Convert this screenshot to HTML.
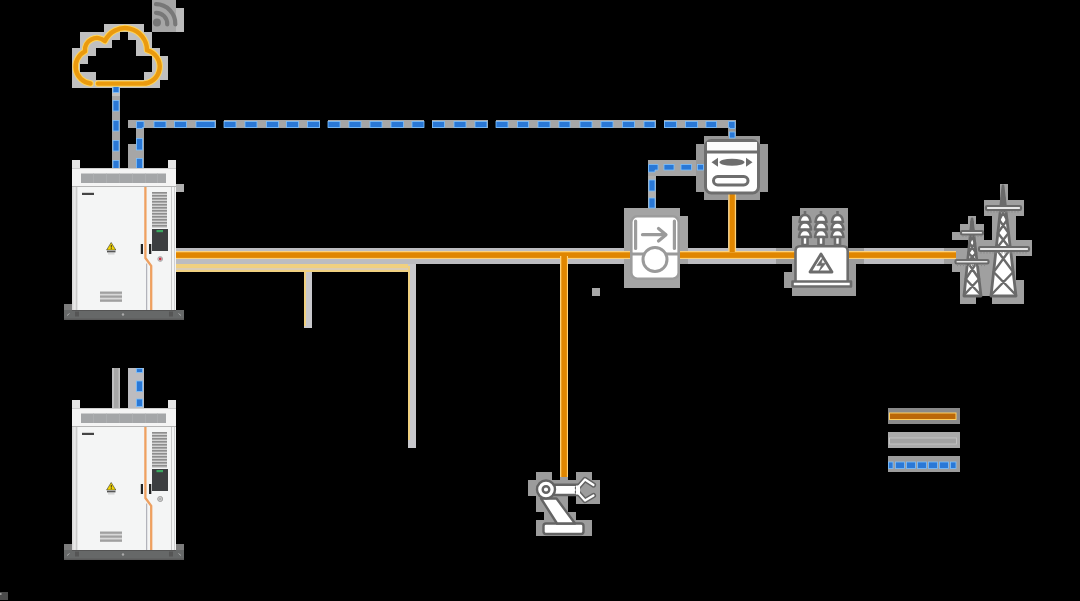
<!DOCTYPE html>
<html><head><meta charset="utf-8">
<style>
html,body{margin:0;padding:0;background:#000;width:1080px;height:601px;overflow:hidden;font-family:"Liberation Sans",sans-serif;}
svg{position:absolute;left:0;top:0;display:block}
</style></head><body>
<svg width="1080" height="601" viewBox="0 0 1080 601">
<g shape-rendering="crispEdges"><rect x="152" y="0" width="24" height="8" fill="#a8a8a8"/><rect x="152" y="8" width="32" height="8" fill="#a8a8a8"/><rect x="152" y="16" width="16" height="8" fill="#c0c0c0"/><rect x="168" y="16" width="16" height="8" fill="#a8a8a8"/><rect x="104" y="24" width="40" height="8" fill="#c0c0c0"/><rect x="152" y="24" width="16" height="8" fill="#c0c0c0"/><rect x="168" y="24" width="16" height="8" fill="#a8a8a8"/><rect x="80" y="32" width="40" height="8" fill="#c0c0c0"/><rect x="128" y="32" width="24" height="8" fill="#c0c0c0"/><rect x="80" y="40" width="32" height="8" fill="#c0c0c0"/><rect x="136" y="40" width="16" height="8" fill="#c0c0c0"/><rect x="72" y="48" width="24" height="8" fill="#c0c0c0"/><rect x="136" y="48" width="24" height="8" fill="#c0c0c0"/><rect x="72" y="56" width="16" height="8" fill="#c0c0c0"/><rect x="152" y="56" width="16" height="8" fill="#c0c0c0"/><rect x="72" y="64" width="8" height="8" fill="#c0c0c0"/><rect x="152" y="64" width="16" height="8" fill="#c0c0c0"/><rect x="72" y="72" width="24" height="8" fill="#c0c0c0"/><rect x="144" y="72" width="24" height="8" fill="#c0c0c0"/><rect x="72" y="80" width="88" height="8" fill="#c0c0c0"/><rect x="112" y="88" width="8" height="8" fill="#c0c0c0"/><rect x="112" y="96" width="8" height="8" fill="#a6a6a6"/><rect x="112" y="104" width="8" height="8" fill="#a6a6a6"/><rect x="112" y="112" width="8" height="8" fill="#a6a6a6"/><rect x="112" y="120" width="8" height="8" fill="#a6a6a6"/><rect x="128" y="120" width="88" height="8" fill="#a6a6a6"/><rect x="224" y="120" width="96" height="8" fill="#a6a6a6"/><rect x="328" y="120" width="96" height="8" fill="#a6a6a6"/><rect x="432" y="120" width="56" height="8" fill="#a6a6a6"/><rect x="496" y="120" width="160" height="8" fill="#a6a6a6"/><rect x="664" y="120" width="72" height="8" fill="#a6a6a6"/><rect x="112" y="128" width="8" height="8" fill="#a6a6a6"/><rect x="136" y="128" width="8" height="8" fill="#a6a6a6"/><rect x="728" y="128" width="8" height="8" fill="#989898"/><rect x="112" y="136" width="8" height="8" fill="#a6a6a6"/><rect x="136" y="136" width="8" height="8" fill="#a6a6a6"/><rect x="704" y="136" width="56" height="8" fill="#989898"/><rect x="112" y="144" width="8" height="8" fill="#a6a6a6"/><rect x="128" y="144" width="16" height="8" fill="#a6a6a6"/><rect x="696" y="144" width="72" height="8" fill="#989898"/><rect x="112" y="152" width="8" height="8" fill="#a6a6a6"/><rect x="128" y="152" width="16" height="8" fill="#a6a6a6"/><rect x="696" y="152" width="72" height="8" fill="#989898"/><rect x="72" y="160" width="8" height="8" fill="#a6a6a6"/><rect x="112" y="160" width="8" height="8" fill="#a6a6a6"/><rect x="128" y="160" width="16" height="8" fill="#a6a6a6"/><rect x="168" y="160" width="8" height="8" fill="#a6a6a6"/><rect x="648" y="160" width="48" height="8" fill="#a6a6a6"/><rect x="696" y="160" width="72" height="8" fill="#989898"/><rect x="72" y="168" width="104" height="8" fill="#a6a6a6"/><rect x="648" y="168" width="48" height="8" fill="#a6a6a6"/><rect x="696" y="168" width="72" height="8" fill="#989898"/><rect x="72" y="176" width="104" height="8" fill="#b0b0b0"/><rect x="648" y="176" width="8" height="8" fill="#b0b0b0"/><rect x="696" y="176" width="72" height="8" fill="#989898"/><rect x="72" y="184" width="112" height="8" fill="#b0b0b0"/><rect x="648" y="184" width="8" height="8" fill="#b0b0b0"/><rect x="696" y="184" width="72" height="8" fill="#989898"/><rect x="1000" y="184" width="8" height="8" fill="#a0a0a0"/><rect x="72" y="192" width="104" height="8" fill="#b0b0b0"/><rect x="648" y="192" width="8" height="8" fill="#b0b0b0"/><rect x="704" y="192" width="56" height="8" fill="#989898"/><rect x="1000" y="192" width="8" height="8" fill="#a0a0a0"/><rect x="72" y="200" width="104" height="8" fill="#b0b0b0"/><rect x="648" y="200" width="8" height="8" fill="#b0b0b0"/><rect x="728" y="200" width="8" height="8" fill="#b0b0b0"/><rect x="984" y="200" width="40" height="8" fill="#a0a0a0"/><rect x="72" y="208" width="104" height="8" fill="#b0b0b0"/><rect x="624" y="208" width="56" height="8" fill="#a4a4a4"/><rect x="728" y="208" width="8" height="8" fill="#b0b0b0"/><rect x="800" y="208" width="48" height="8" fill="#9c9c9c"/><rect x="984" y="208" width="40" height="8" fill="#a0a0a0"/><rect x="72" y="216" width="104" height="8" fill="#b0b0b0"/><rect x="624" y="216" width="64" height="8" fill="#a4a4a4"/><rect x="728" y="216" width="8" height="8" fill="#b0b0b0"/><rect x="792" y="216" width="56" height="8" fill="#9c9c9c"/><rect x="968" y="216" width="8" height="8" fill="#a0a0a0"/><rect x="992" y="216" width="24" height="8" fill="#a0a0a0"/><rect x="72" y="224" width="104" height="8" fill="#b0b0b0"/><rect x="624" y="224" width="64" height="8" fill="#a4a4a4"/><rect x="728" y="224" width="8" height="8" fill="#b0b0b0"/><rect x="792" y="224" width="56" height="8" fill="#9c9c9c"/><rect x="960" y="224" width="24" height="8" fill="#a0a0a0"/><rect x="992" y="224" width="24" height="8" fill="#a0a0a0"/><rect x="72" y="232" width="104" height="8" fill="#b0b0b0"/><rect x="624" y="232" width="64" height="8" fill="#a4a4a4"/><rect x="728" y="232" width="8" height="8" fill="#b0b0b0"/><rect x="792" y="232" width="56" height="8" fill="#9c9c9c"/><rect x="952" y="232" width="32" height="8" fill="#a0a0a0"/><rect x="992" y="232" width="24" height="8" fill="#a0a0a0"/><rect x="72" y="240" width="104" height="8" fill="#bcbcc0"/><rect x="624" y="240" width="64" height="8" fill="#a4a4a4"/><rect x="728" y="240" width="8" height="8" fill="#bcbcc0"/><rect x="792" y="240" width="56" height="8" fill="#9c9c9c"/><rect x="968" y="240" width="64" height="8" fill="#a0a0a0"/><rect x="72" y="248" width="552" height="8" fill="#bcbcc0"/><rect x="624" y="248" width="64" height="8" fill="#a4a4a4"/><rect x="688" y="248" width="88" height="8" fill="#bcbcc0"/><rect x="776" y="248" width="88" height="8" fill="#9c9c9c"/><rect x="864" y="248" width="80" height="8" fill="#bcbcc0"/><rect x="944" y="248" width="88" height="8" fill="#a0a0a0"/><rect x="72" y="256" width="552" height="8" fill="#bcbcc0"/><rect x="624" y="256" width="64" height="8" fill="#a4a4a4"/><rect x="688" y="256" width="88" height="8" fill="#bcbcc0"/><rect x="776" y="256" width="88" height="8" fill="#9c9c9c"/><rect x="864" y="256" width="80" height="8" fill="#bcbcc0"/><rect x="944" y="256" width="72" height="8" fill="#a0a0a0"/><rect x="72" y="264" width="344" height="8" fill="#bcbcc0"/><rect x="560" y="264" width="8" height="8" fill="#bcbcc0"/><rect x="624" y="264" width="56" height="8" fill="#a4a4a4"/><rect x="792" y="264" width="64" height="8" fill="#9c9c9c"/><rect x="952" y="264" width="64" height="8" fill="#a0a0a0"/><rect x="72" y="272" width="104" height="8" fill="#bcbcc0"/><rect x="304" y="272" width="8" height="8" fill="#bcbcc0"/><rect x="408" y="272" width="8" height="8" fill="#bcbcc0"/><rect x="560" y="272" width="8" height="8" fill="#bcbcc0"/><rect x="624" y="272" width="56" height="8" fill="#a4a4a4"/><rect x="784" y="272" width="72" height="8" fill="#9c9c9c"/><rect x="960" y="272" width="56" height="8" fill="#a0a0a0"/><rect x="72" y="280" width="104" height="8" fill="#bcbcc0"/><rect x="304" y="280" width="8" height="8" fill="#bcbcc0"/><rect x="408" y="280" width="8" height="8" fill="#bcbcc0"/><rect x="560" y="280" width="8" height="8" fill="#bcbcc0"/><rect x="624" y="280" width="56" height="8" fill="#a4a4a4"/><rect x="784" y="280" width="72" height="8" fill="#9c9c9c"/><rect x="960" y="280" width="64" height="8" fill="#a0a0a0"/><rect x="72" y="288" width="104" height="8" fill="#bcbcc0"/><rect x="304" y="288" width="8" height="8" fill="#bcbcc0"/><rect x="408" y="288" width="8" height="8" fill="#bcbcc0"/><rect x="560" y="288" width="8" height="8" fill="#bcbcc0"/><rect x="592" y="288" width="8" height="8" fill="#bcbcc0"/><rect x="792" y="288" width="64" height="8" fill="#9c9c9c"/><rect x="960" y="288" width="64" height="8" fill="#a0a0a0"/><rect x="72" y="296" width="104" height="8" fill="#bcbcc0"/><rect x="304" y="296" width="8" height="8" fill="#bcbcc0"/><rect x="408" y="296" width="8" height="8" fill="#bcbcc0"/><rect x="560" y="296" width="8" height="8" fill="#bcbcc0"/><rect x="960" y="296" width="16" height="8" fill="#a0a0a0"/><rect x="992" y="296" width="32" height="8" fill="#a0a0a0"/><rect x="64" y="304" width="8" height="8" fill="#7c7c7c"/><rect x="72" y="304" width="104" height="8" fill="#bcbcc0"/><rect x="304" y="304" width="8" height="8" fill="#bcbcc0"/><rect x="408" y="304" width="8" height="8" fill="#bcbcc0"/><rect x="560" y="304" width="8" height="8" fill="#bcbcc0"/><rect x="64" y="312" width="120" height="8" fill="#bcbcc0"/><rect x="304" y="312" width="8" height="8" fill="#bcbcc0"/><rect x="408" y="312" width="8" height="8" fill="#bcbcc0"/><rect x="560" y="312" width="8" height="8" fill="#bcbcc0"/><rect x="304" y="320" width="8" height="8" fill="#bcbcc0"/><rect x="408" y="320" width="8" height="8" fill="#bcbcc0"/><rect x="560" y="320" width="8" height="8" fill="#bcbcc0"/><rect x="408" y="328" width="8" height="8" fill="#bcbcc0"/><rect x="560" y="328" width="8" height="8" fill="#bcbcc0"/><rect x="408" y="336" width="8" height="8" fill="#bcbcc0"/><rect x="560" y="336" width="8" height="8" fill="#bcbcc0"/><rect x="408" y="344" width="8" height="8" fill="#bcbcc0"/><rect x="560" y="344" width="8" height="8" fill="#bcbcc0"/><rect x="408" y="352" width="8" height="8" fill="#bcbcc0"/><rect x="560" y="352" width="8" height="8" fill="#bcbcc0"/><rect x="408" y="360" width="8" height="8" fill="#bcbcc0"/><rect x="560" y="360" width="8" height="8" fill="#bcbcc0"/><rect x="112" y="368" width="8" height="8" fill="#bcbcc0"/><rect x="128" y="368" width="16" height="8" fill="#bcbcc0"/><rect x="408" y="368" width="8" height="8" fill="#bcbcc0"/><rect x="560" y="368" width="8" height="8" fill="#bcbcc0"/><rect x="112" y="376" width="8" height="8" fill="#bcbcc0"/><rect x="128" y="376" width="16" height="8" fill="#bcbcc0"/><rect x="408" y="376" width="8" height="8" fill="#bcbcc0"/><rect x="560" y="376" width="8" height="8" fill="#bcbcc0"/><rect x="112" y="384" width="8" height="8" fill="#bcbcc0"/><rect x="128" y="384" width="16" height="8" fill="#bcbcc0"/><rect x="408" y="384" width="8" height="8" fill="#bcbcc0"/><rect x="560" y="384" width="8" height="8" fill="#bcbcc0"/><rect x="112" y="392" width="8" height="8" fill="#bcbcc0"/><rect x="128" y="392" width="16" height="8" fill="#bcbcc0"/><rect x="408" y="392" width="8" height="8" fill="#bcbcc0"/><rect x="560" y="392" width="8" height="8" fill="#bcbcc0"/><rect x="72" y="400" width="8" height="8" fill="#bcbcc0"/><rect x="112" y="400" width="8" height="8" fill="#bcbcc0"/><rect x="128" y="400" width="16" height="8" fill="#bcbcc0"/><rect x="168" y="400" width="8" height="8" fill="#bcbcc0"/><rect x="408" y="400" width="8" height="8" fill="#bcbcc0"/><rect x="560" y="400" width="8" height="8" fill="#bcbcc0"/><rect x="72" y="408" width="104" height="8" fill="#bcbcc0"/><rect x="408" y="408" width="8" height="8" fill="#bcbcc0"/><rect x="560" y="408" width="8" height="8" fill="#bcbcc0"/><rect x="72" y="416" width="104" height="8" fill="#bcbcc0"/><rect x="408" y="416" width="8" height="8" fill="#bcbcc0"/><rect x="560" y="416" width="8" height="8" fill="#bcbcc0"/><rect x="72" y="424" width="104" height="8" fill="#bcbcc0"/><rect x="408" y="424" width="8" height="8" fill="#bcbcc0"/><rect x="560" y="424" width="8" height="8" fill="#bcbcc0"/><rect x="72" y="432" width="104" height="8" fill="#bcbcc0"/><rect x="408" y="432" width="8" height="8" fill="#bcbcc0"/><rect x="560" y="432" width="8" height="8" fill="#bcbcc0"/><rect x="72" y="440" width="104" height="8" fill="#bcbcc0"/><rect x="408" y="440" width="8" height="8" fill="#bcbcc0"/><rect x="560" y="440" width="8" height="8" fill="#bcbcc0"/><rect x="72" y="448" width="104" height="8" fill="#bcbcc0"/><rect x="560" y="448" width="8" height="8" fill="#bcbcc0"/><rect x="72" y="456" width="104" height="8" fill="#b0b0b0"/><rect x="560" y="456" width="8" height="8" fill="#b0b0b0"/><rect x="72" y="464" width="104" height="8" fill="#b0b0b0"/><rect x="560" y="464" width="8" height="8" fill="#b0b0b0"/><rect x="72" y="472" width="104" height="8" fill="#b0b0b0"/><rect x="536" y="472" width="16" height="8" fill="#9c9c9c"/><rect x="560" y="472" width="8" height="8" fill="#9c9c9c"/><rect x="576" y="472" width="16" height="8" fill="#9c9c9c"/><rect x="72" y="480" width="104" height="8" fill="#b0b0b0"/><rect x="528" y="480" width="72" height="8" fill="#9c9c9c"/><rect x="72" y="488" width="104" height="8" fill="#b0b0b0"/><rect x="528" y="488" width="72" height="8" fill="#9c9c9c"/><rect x="72" y="496" width="104" height="8" fill="#b0b0b0"/><rect x="536" y="496" width="32" height="8" fill="#9c9c9c"/><rect x="576" y="496" width="24" height="8" fill="#9c9c9c"/><rect x="72" y="504" width="104" height="8" fill="#b0b0b0"/><rect x="536" y="504" width="32" height="8" fill="#9c9c9c"/><rect x="72" y="512" width="104" height="8" fill="#b0b0b0"/><rect x="544" y="512" width="32" height="8" fill="#9c9c9c"/><rect x="72" y="520" width="104" height="8" fill="#b0b0b0"/><rect x="536" y="520" width="56" height="8" fill="#9c9c9c"/><rect x="72" y="528" width="104" height="8" fill="#b0b0b0"/><rect x="536" y="528" width="56" height="8" fill="#9c9c9c"/><rect x="72" y="536" width="104" height="8" fill="#b0b0b0"/><rect x="64" y="544" width="8" height="8" fill="#7c7c7c"/><rect x="72" y="544" width="104" height="8" fill="#b0b0b0"/><rect x="176" y="544" width="8" height="8" fill="#7c7c7c"/><rect x="64" y="552" width="120" height="8" fill="#b0b0b0"/><rect x="0" y="592" width="8" height="8" fill="#b0b0b0"/></g>
<defs>
<g id="cab">
  <!-- posts -->
  <rect x="72" y="160" width="8" height="150" fill="#e6e6e6"/>
  <rect x="168" y="160" width="8" height="150" fill="#e6e6e6"/>
  <!-- roof -->
  <rect x="72" y="168" width="104" height="20" fill="#f4f4f4"/>
  <rect x="72" y="168" width="104" height="0.8" fill="#c4c4c4"/>
  <rect x="81" y="173.5" width="85" height="9.5" fill="#a4a6a8"/>
  <g fill="#b0b2b4"><rect x="93.3" y="173.5" width="0.7" height="9.5"/><rect x="106" y="173.5" width="0.7" height="9.5"/><rect x="119" y="173.5" width="0.7" height="9.5"/><rect x="132" y="173.5" width="0.7" height="9.5"/><rect x="145" y="173.5" width="0.7" height="9.5"/><rect x="157" y="173.5" width="0.7" height="9.5"/></g>
  <rect x="72" y="186" width="104" height="1" fill="#b4b4b4"/>
  <!-- body -->
  <rect x="72" y="187" width="104" height="123" fill="#f4f5f5"/>
  <rect x="72" y="187" width="5" height="123" fill="#dadada"/>
  <rect x="73.5" y="187" width="2" height="123" fill="#e8e8e8"/>
  <rect x="76.5" y="187" width="0.8" height="123" fill="#bcbcbc"/>
  <rect x="171" y="187" width="1" height="123" fill="#c8c8c8"/>
  <rect x="174" y="187" width="1" height="123" fill="#d0d0d0"/>
  <!-- louvers -->
  <rect x="152" y="192" width="15" height="36" fill="#d4d4d4"/>
  <g fill="#8e8e8e">
   <rect x="152" y="192" width="15" height="1.6"/><rect x="152" y="195" width="15" height="1.6"/><rect x="152" y="198" width="15" height="1.6"/><rect x="152" y="201" width="15" height="1.6"/><rect x="152" y="204" width="15" height="1.6"/><rect x="152" y="207" width="15" height="1.6"/><rect x="152" y="210" width="15" height="1.6"/><rect x="152" y="213" width="15" height="1.6"/><rect x="152" y="216" width="15" height="1.6"/><rect x="152" y="219" width="15" height="1.6"/><rect x="152" y="222" width="15" height="1.6"/><rect x="152" y="225" width="15" height="1.6"/>
  </g>
  <!-- display -->
  <rect x="152" y="229" width="16" height="22" fill="#3c3e40"/>
  <rect x="156.5" y="230" width="6.5" height="2.2" fill="#3aa860"/>
  <!-- seam -->
  <path d="M145.4 187 V258 L151.2 265.8 V310" fill="none" stroke="#eea060" stroke-width="2.3"/>
  <path d="M146.7 263.5 V310" fill="none" stroke="#8e8e98" stroke-width="0.8"/>
  <!-- handles -->
  <rect x="140.8" y="244" width="2.2" height="10" fill="#222"/>
  <rect x="149" y="244" width="2.3" height="10" fill="#222"/>
  <!-- warning -->
  <path d="M111.2 242.5 L115.8 250 H106.6 Z" fill="#f2d400" stroke="#333" stroke-width="0.6"/>
  <rect x="110.8" y="245" width="0.9" height="2.6" fill="#222"/><rect x="110.8" y="248.2" width="0.9" height="0.9" fill="#222"/>
  <rect x="107" y="250.8" width="8.5" height="1.6" fill="#555"/>
  <rect x="108" y="253.5" width="6.5" height="0.8" fill="#bbb"/>
  <!-- logo -->
  <rect x="82" y="192.8" width="12" height="2.2" fill="#444"/>
  <!-- bottom louver -->
  <rect x="100" y="291.6" width="22" height="10.4" fill="#d8d8d8"/>
  <rect x="100" y="291.6" width="22" height="2.2" fill="#a0a0a0"/>
  <rect x="100" y="295.5" width="22" height="2.2" fill="#a0a0a0"/>
  <rect x="100" y="299.5" width="22" height="2.2" fill="#a0a0a0"/>
  <!-- base -->
  <rect x="64" y="310" width="120" height="10" fill="#666868"/>
  <rect x="64" y="318.5" width="120" height="1.5" fill="#5a5a5a"/>
  <rect x="72" y="310" width="104" height="1" fill="#545454"/>
  <rect x="75" y="311.5" width="4" height="5" fill="#555"/><rect x="169" y="311.5" width="4" height="5" fill="#555"/>
  <path d="M67 315.5 l2.5 -2 M181 315.5 l-2.5 -2" stroke="#bbb" stroke-width="0.8"/>
  <circle cx="123" cy="314.5" r="1.2" fill="#aaa"/>
  <circle cx="160.2" cy="259" r="2.4" fill="#d8d8d8" stroke="#9a9a9a" stroke-width="0.8"/>
  <circle cx="160.2" cy="259" r="1.4" fill="#c83a4a"/>
</g>
</defs>

<!-- ============ LINES ============ -->
<!-- main bus -->
<rect x="175" y="251" width="781" height="8" fill="#ffd27a"/>
<rect x="175" y="252.3" width="781" height="5.6" fill="#e08600"/>
<!-- verticals orange -->
<rect x="728.3" y="194" width="7.8" height="58" fill="#ffd27a"/>
<rect x="729.6" y="194" width="5.2" height="58" fill="#e08600"/>
<rect x="560" y="256" width="8" height="221" fill="#ffd27a"/>
<rect x="561.3" y="256" width="5.6" height="221" fill="#e08600"/>
<!-- beige -->
<rect x="176" y="264" width="232" height="8" fill="#f0d080"/>
<rect x="176" y="268" width="232" height="2" fill="#dccdb4"/>
<rect x="304" y="272" width="8" height="56" fill="#c8c8cc"/>
<rect x="304" y="270" width="2" height="56" fill="#f0d080"/>
<rect x="408" y="264" width="8" height="184" fill="#c8c8cc"/>
<rect x="408" y="266" width="2" height="174" fill="#f0d080"/>



<!-- ============ TRANSFORMER ============ -->
<g stroke="#6c6c6c" stroke-width="2.6" fill="#fff" stroke-linejoin="round">
 <g id="ins">
  <path d="M805 211 V215"/>
  <path d="M799.5 222 Q800 215 805 215 Q810 215 810.5 222 Z"/>
  <path d="M799 229.5 Q799.5 222.5 805 222.5 Q810.5 222.5 811 229.5 Z"/>
  <path d="M799 237 Q799.5 230 805 230 Q810.5 230 811 237 Z"/>
  <rect x="802.5" y="237" width="5" height="8"/>
 </g>
 <use href="#ins" transform="translate(16,0)"/>
 <use href="#ins" transform="translate(32.5,0)"/>
 <path d="M795.5 282 V251 Q795.5 246.3 800 246.3 H843 Q847.7 246.3 847.7 251 V282"/>
 <rect x="792.5" y="281.5" width="58.5" height="5"/>
 <path d="M821 254 L832 272 H810 Z" stroke-width="2.8"/>
</g>
<path d="M823.2 257 L816.8 265.6 H821.4 L818.6 272 L825.8 263.2 H821.2 Z" fill="#6c6c6c" stroke="#6c6c6c" stroke-width="0.6" stroke-linejoin="round"/>

<!-- ============ TOWERS ============ -->
<path d="M972 218.8 L964 296 H981 Z" fill="#fff" stroke="#6a6a6a" stroke-width="2.8" stroke-linejoin="round"/>
<path d="M971.5 222 L973.8 233 M972.6 222 L970.4 233 M970.4 233 L975.0 243 M973.8 233 L969.4 243 M969.4 243 L976.1 253 M975.0 243 L968.4 253 M968.4 253 L977.1 262 M976.1 253 L967.4 262 M967.4 262 L979.1 279 M977.1 262 L965.7 279 M965.7 279 L980.9 295 M979.1 279 L964.1 295 " fill="none" stroke="#6a6a6a" stroke-width="2.4" stroke-linecap="round"/>
<rect x="961" y="231" width="22" height="3.5" rx="1.2" fill="#e8e8e8" stroke="#6a6a6a" stroke-width="2.2"/>
<path d="M963.0 235.5 v1.6 M966.0 235.5 v1.6 M969.0 235.5 v1.6 M972.0 235.5 v1.6 M975.0 235.5 v1.6 M978.0 235.5 v1.6 M981.0 235.5 v1.6 " stroke="#8a8a8a" stroke-width="1"/>
<rect x="955.5" y="260" width="33.0" height="3.5" rx="1.2" fill="#e8e8e8" stroke="#6a6a6a" stroke-width="2.2"/>
<path d="M957.5 264.5 v1.6 M960.5 264.5 v1.6 M963.5 264.5 v1.6 M966.5 264.5 v1.6 M969.5 264.5 v1.6 M972.5 264.5 v1.6 M975.5 264.5 v1.6 M978.5 264.5 v1.6 M981.5 264.5 v1.6 M984.5 264.5 v1.6 " stroke="#8a8a8a" stroke-width="1"/>
<path d="M1003 186 L991 296 H1016 Z" fill="#fff" stroke="#6a6a6a" stroke-width="2.8" stroke-linejoin="round"/>
<path d="M1001.7 198 L1005.6 208 M1004.4 198 L1000.6 208 M1000.6 208 L1007.0 220 M1005.6 208 L999.3 220 M999.3 220 L1008.6 233 M1007.0 220 L997.9 233 M997.9 233 L1010.4 249 M1008.6 233 L996.1 249 M996.1 249 L1013.2 272 M1010.4 249 L993.6 272 M993.6 272 L1015.9 295 M1013.2 272 L991.1 295 " fill="none" stroke="#6a6a6a" stroke-width="2.4" stroke-linecap="round"/>
<rect x="986" y="206" width="35" height="4" rx="1.2" fill="#e8e8e8" stroke="#6a6a6a" stroke-width="2.2"/>
<path d="M988.0 211 v1.6 M991.0 211 v1.6 M994.0 211 v1.6 M997.0 211 v1.6 M1000.0 211 v1.6 M1003.0 211 v1.6 M1006.0 211 v1.6 M1009.0 211 v1.6 M1012.0 211 v1.6 M1015.0 211 v1.6 M1018.0 211 v1.6 " stroke="#8a8a8a" stroke-width="1"/>
<rect x="979" y="247" width="50" height="4" rx="1.2" fill="#e8e8e8" stroke="#6a6a6a" stroke-width="2.2"/>
<path d="M981.0 252 v1.6 M984.0 252 v1.6 M987.0 252 v1.6 M990.0 252 v1.6 M993.0 252 v1.6 M996.0 252 v1.6 M999.0 252 v1.6 M1002.0 252 v1.6 M1005.0 252 v1.6 M1008.0 252 v1.6 M1011.0 252 v1.6 M1014.0 252 v1.6 M1017.0 252 v1.6 M1020.0 252 v1.6 M1023.0 252 v1.6 M1026.0 252 v1.6 " stroke="#8a8a8a" stroke-width="1"/>
<!-- ============ ROBOT ============ -->
<g stroke="#646464" stroke-width="2.4" fill="#fff" stroke-linejoin="round">
 <rect x="543.5" y="523.5" width="40" height="10.5" rx="2.5"/>
 <path d="M541 498.5 L556.5 498.5 L575 523.5 L557 523.5 Z"/>
 <path d="M554 484.8 H577.5 V495 H554 Z"/>
</g>
<g fill="none" stroke-linejoin="round" stroke-linecap="round">
 <path d="M577.5 488 L585 479.5 L593.5 485 M577.5 492 L585 500.5 L593.5 495.5" stroke="#646464" stroke-width="5.2"/>
 <path d="M577.5 488 L585 479.5 L593.5 485 M577.5 492 L585 500.5 L593.5 495.5" stroke="#fff" stroke-width="2.2"/>
</g>
<rect x="576" y="485.5" width="4" height="9" fill="#fff"/>
<g stroke="#646464" stroke-width="2.4" fill="#fff">
 <circle cx="546" cy="489.5" r="9"/>
 <circle cx="546" cy="489.5" r="3.3"/>
</g>
<!-- ============ LEGEND ============ -->
<rect x="888" y="408" width="72" height="16" fill="#8a8a8a"/>
<rect x="889" y="412.5" width="67.5" height="7.5" fill="#ffcf60"/>
<rect x="890" y="413.5" width="65.5" height="5.5" fill="#bb6808"/>
<rect x="888" y="432" width="72" height="16" fill="#aaaaaa"/>
<rect x="889.5" y="438" width="67" height="6" fill="#a2a2a2" stroke="#c8c8c8" stroke-width="0.8"/>
<rect x="888" y="456" width="72" height="16" fill="#9c9c9c"/>

<!-- tiny mark -->
<rect x="0" y="592" width="8" height="8" fill="#4c4c4c"/>
<rect x="0" y="593" width="1.5" height="2" fill="#999"/>
<rect x="592" y="288" width="8" height="8" fill="#a8a8a8"/>

<!-- ============ DASHED BLUE ============ -->
<g fill="#2a78d6" stroke="#7cc0ff" stroke-width="0.8">
 <!-- V1 -->
 <rect x="113" y="86.5" width="6" height="6"/>
 <rect x="113" y="100.5" width="6" height="10.5"/>
 <rect x="113" y="120.5" width="6" height="10.5"/>
 <rect x="113" y="140.5" width="6" height="10.5"/>
 <rect x="113" y="160.5" width="6" height="10"/>
 <!-- V2 -->
 <path d="M136.5 121.5 H144 V127.5 H142.5 V128.5 H136.5 Z"/>
 <rect x="136.5" y="138.5" width="6" height="11.5"/>
 <rect x="136.5" y="158.5" width="6" height="12"/>
 <!-- H1 -->
 <rect x="154" y="121.5" width="12" height="6"/>
 <rect x="174.5" y="121.5" width="12" height="6"/>
 <rect x="196" y="121.5" width="19" height="6"/>
 <rect x="224" y="121.5" width="12" height="6"/>
 <rect x="245" y="121.5" width="12" height="6"/>
 <rect x="266.5" y="121.5" width="12" height="6"/>
 <rect x="286.5" y="121.5" width="12" height="6"/>
 <rect x="307.5" y="121.5" width="12" height="6"/>
 <rect x="328" y="121.5" width="12" height="6"/>
 <rect x="349" y="121.5" width="12" height="6"/>
 <rect x="370" y="121.5" width="12" height="6"/>
 <rect x="391" y="121.5" width="12.5" height="6"/>
 <rect x="412" y="121.5" width="12" height="6"/>
 <rect x="432.5" y="121.5" width="12" height="6"/>
 <rect x="454" y="121.5" width="12" height="6"/>
 <rect x="475" y="121.5" width="12" height="6"/>
 <rect x="496" y="121.5" width="12" height="6"/>
 <rect x="517.5" y="121.5" width="11" height="6"/>
 <rect x="538" y="121.5" width="12" height="6"/>
 <rect x="559" y="121.5" width="11" height="6"/>
 <rect x="580" y="121.5" width="12" height="6"/>
 <rect x="601" y="121.5" width="12" height="6"/>
 <rect x="622.5" y="121.5" width="12" height="6"/>
 <rect x="644" y="121.5" width="11" height="6"/>
 <rect x="664.5" y="121.5" width="12" height="6"/>
 <rect x="685.5" y="121.5" width="12" height="6"/>
 <rect x="706" y="121.5" width="10.5" height="6"/>
 <path d="M728.5 121.5 H735 V128.5 H729.5 V127.5 H728.5 Z"/>
 <rect x="729.5" y="132" width="5.5" height="6"/>
 <!-- meter left dashed -->
 <path d="M648.5 164.5 H658 V170 H655 V172 H648.5 Z"/>
 <rect x="664" y="164.5" width="10" height="5.5"/>
 <rect x="681" y="164.5" width="10.5" height="5.5"/>
 <rect x="697.5" y="164.5" width="6" height="5.5"/>
 <rect x="649" y="180" width="6" height="11"/>
 <rect x="649" y="198" width="6" height="10"/>
 <!-- cabinet2 dashed -->
 <rect x="136.5" y="368.5" width="6" height="4"/>
 <rect x="136.5" y="381" width="6" height="10.5"/>
 <rect x="136.5" y="399" width="6" height="7.5"/>
 <!-- legend dashes -->
 <rect x="888.5" y="462" width="4.5" height="6.5"/>
 <rect x="895.5" y="462" width="9" height="6.5"/>
 <rect x="906.5" y="462" width="9" height="6.5"/>
 <rect x="917.5" y="462" width="9" height="6.5"/>
 <rect x="928.5" y="462" width="9" height="6.5"/>
 <rect x="939.5" y="462" width="9" height="6.5"/>
 <rect x="950.5" y="462" width="5.5" height="6.5"/>
</g>
<!-- cabinet2 gray vertical -->
<rect x="112.5" y="368" width="7.5" height="40" fill="#c0c0c0"/>
<rect x="114" y="368" width="4.5" height="40" fill="#a6a6a6"/>

<!-- ============ SMART METER ============ -->
<rect x="705.5" y="140.5" width="53" height="52.5" rx="6" fill="#fff" stroke="#6e6e6e" stroke-width="3"/>
<rect x="707" y="142" width="50" height="9" fill="#fafafa"/>
<rect x="705.5" y="150.5" width="53" height="3" fill="#6e6e6e"/>
<path d="M711.5 162.3 L718 157.8 V166.8 Z M752.5 162.3 L746 157.8 V166.8 Z" fill="#6e6e6e"/>
<ellipse cx="732" cy="162.3" rx="12.5" ry="3.5" fill="#6e6e6e"/>
<rect x="713.5" y="176.5" width="34.5" height="8.5" rx="4.25" fill="#fff" stroke="#6e6e6e" stroke-width="3"/>

<!-- ============ CT METER ============ -->
<rect x="631.3" y="216.3" width="47.4" height="62.4" rx="6" fill="#fff" stroke="#9c9c9c" stroke-width="2.6"/>
<rect x="634" y="219.5" width="3.2" height="30.5" rx="1.6" fill="#9c9c9c"/>
<rect x="672.8" y="219.5" width="3.2" height="30.5" rx="1.6" fill="#9c9c9c"/>
<path d="M642.5 234.7 H665" stroke="#9a9a9a" stroke-width="3.2" stroke-linecap="round"/>
<path d="M658.5 228.5 L666 234.7 L658.5 241" fill="none" stroke="#9a9a9a" stroke-width="3.2" stroke-linecap="round" stroke-linejoin="round"/>
<path d="M631.5 254 H678.5" stroke="#9a9a9a" stroke-width="3"/>
<circle cx="655" cy="259.5" r="12" fill="#fff" stroke="#9a9a9a" stroke-width="3"/>

<!-- ============ ICONS ============ -->
<use href="#cab"/>
<use href="#cab" transform="translate(0,240)"/>
<circle cx="160.2" cy="499" r="2.4" fill="#d8d8d8" stroke="#9a9a9a" stroke-width="0.8"/>
<circle cx="160.2" cy="499" r="1.3" fill="#b0b0b0"/>

<!-- cloud -->
<path id="cl" d="M98 83.6 H142.5 A17 17 0 0 0 147 50.15 A22 22 0 0 0 104.9 41.1 A12 12 0 0 0 85 51.4 A17 17 0 0 0 90.5 83.5" fill="none" stroke="#ffd458" stroke-width="6.4" stroke-linecap="round" stroke-linejoin="round"/>
<path d="M98 83.6 H142.5 A17 17 0 0 0 147 50.15 A22 22 0 0 0 104.9 41.1 A12 12 0 0 0 85 51.4 A17 17 0 0 0 90.5 83.5" fill="none" stroke="#ea9a0e" stroke-width="4.4" stroke-linecap="round" stroke-linejoin="round"/>

<!-- rss -->
<rect x="152" y="0" width="24" height="32" fill="#a6a6a6"/>
<rect x="176" y="8" width="8" height="24" fill="#bcbcbc"/>
<circle cx="157" cy="22.6" r="4" fill="#787878"/>
<path d="M156 12.8 A11 11 0 0 1 167.2 24.4" fill="none" stroke="#787878" stroke-width="4.2" stroke-linecap="round"/>
<path d="M156 4.2 A19.5 19.5 0 0 1 175.3 24.4" fill="none" stroke="#787878" stroke-width="4.2" stroke-linecap="round"/>

</svg>
</body></html>
